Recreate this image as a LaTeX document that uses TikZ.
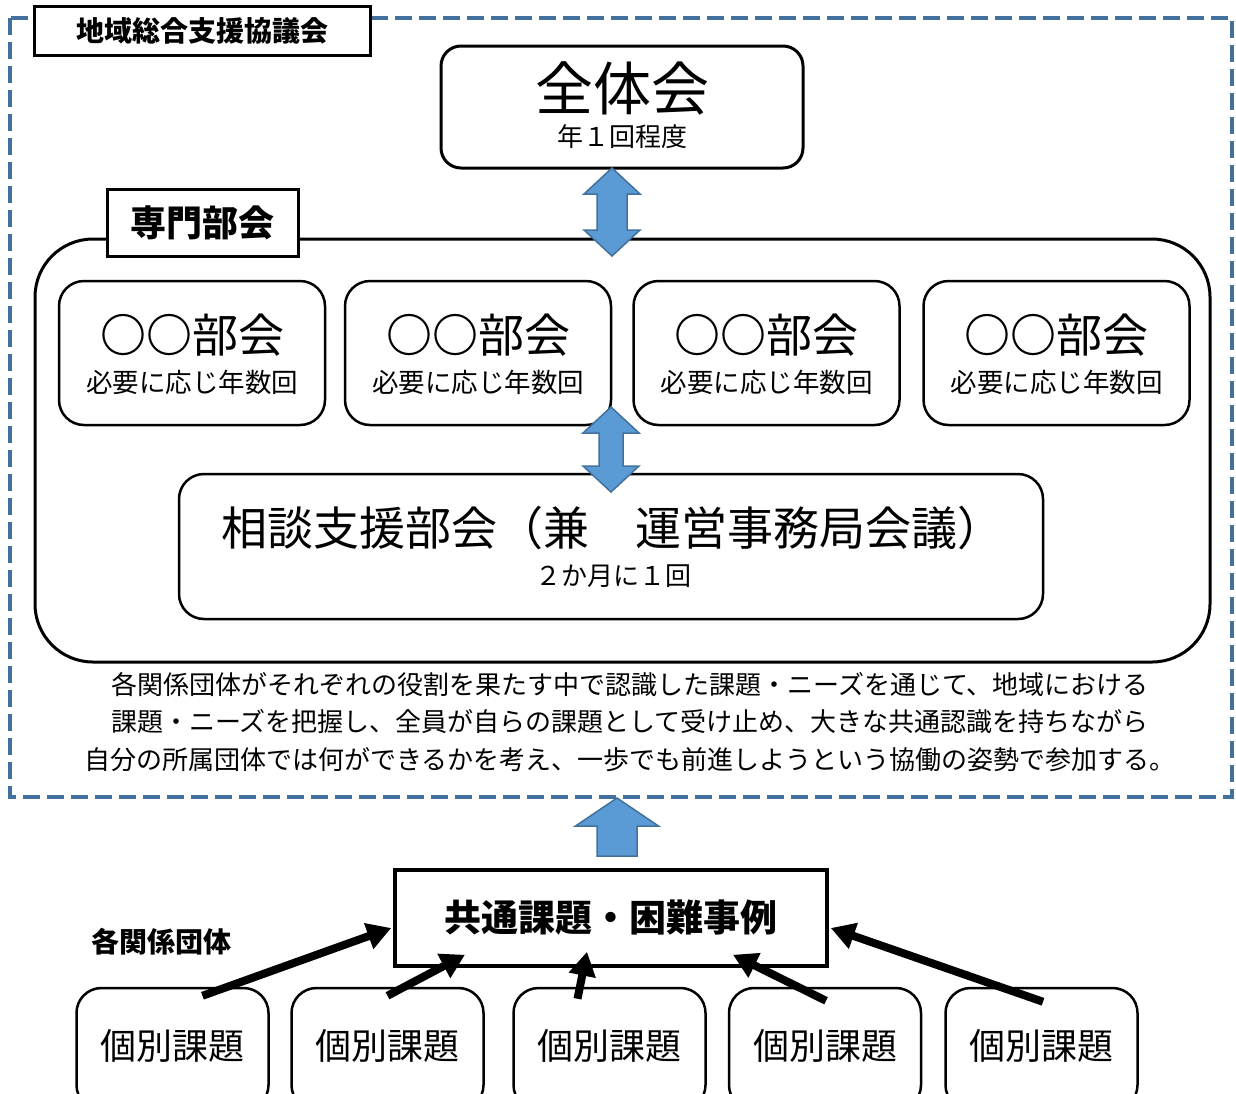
\documentclass[tikz,border=0pt]{standalone}
\usepackage{fontspec}
\setmainfont{Noto Sans CJK JP}
\usetikzlibrary{calc,arrows.meta}
\definecolor{arrowblue}{RGB}{91,155,213}
\definecolor{frameblue}{RGB}{65,113,156}
\newcommand{\fsz}[1]{\fontsize{#1}{#1}\selectfont}
% block double arrow between two tips
\newcommand{\dblarrow}[4]{%
  \draw [blockarrow] (#1) -- ($(#1)+(28,#4)$) -- ($(#1)+(#3,#4)$) -- ($(#2)+(#3,-#4)$)
    -- ($(#2)+(28,-#4)$) -- (#2) -- ($(#2)+(-28,-#4)$) -- ($(#2)+(-#3,-#4)$)
    -- ($(#1)+(-#3,#4)$) -- ($(#1)+(-28,#4)$) -- cycle;}
\tikzset{
  dashframe/.style={draw=frameblue, line width=4pt, dash pattern=on 17pt off 7pt},
  titlebox/.style={draw, line width=3pt, fill=white, inner sep=0pt, font=\bfseries\fsz{28}},
  roundbox/.style={draw, line width=2.5pt, rounded corners=25pt, fill=white, inner sep=0pt},
  sharpbox/.style={draw, line width=3.5pt, fill=white, inner sep=0pt},
  blockarrow/.style={fill=arrowblue, draw=frameblue, line width=1.5pt, line join=miter},
  pusharrow/.style={-{Triangle[length=24pt,width=26pt]}, line width=8pt},
  plain/.style={inner sep=0pt}
}
\begin{document}
\begin{tikzpicture}[x=1pt,y=-1pt]
\clip (0,0) rectangle (1236,1093);
\fill [white] (0,0) rectangle (1236,1093);

% outer frame
\draw [dashframe] (10,18) rectangle (1232,797);
\node (kyogikai) [titlebox, minimum width=336pt, minimum height=49pt] at (202,30.5) {地域総合支援協議会};

% plenary
\node (zentai) [roundbox, rounded corners=20pt, line width=3pt, minimum width=362pt, minimum height=122pt] at (622,107) {};
\node (zentaiT) [plain, font=\fsz{58}] at (622,88) {全体会};
\node (zentaiS) [plain, font=\fsz{26}] at (622,137) {年１回程度};

% specialist group
\node (senmon) [draw, line width=3pt, rounded corners=58pt, minimum width=1175pt, minimum height=423pt, inner sep=0pt] at (622.5,450.5) {};
\node (senmonL) [titlebox, font=\bfseries\fsz{36}, minimum width=191pt, minimum height=67pt] at (202.5,222.5) {専門部会};

\foreach \n/\x in {1/192,2/478,3/766.5,4/1056.5} {
  \node (b\n) [roundbox, minimum width=266pt, minimum height=144pt] at (\x,353) {};
  \node (b\n T) [plain, font=\fsz{46}] at (\x,335) {{\bfseries ○○}部会};
  \node (b\n S) [plain, font=\fsz{26.5}] at (\x,382) {必要に応じ年数回};
}

\node (soudan) [roundbox, minimum width=864pt, minimum height=145pt] at (611,546.5) {};
\node (soudanT) [plain, font=\fsz{46}] at (612,528) {相談支援部会（兼　運営事務局会議）};
\node (soudanS) [plain, font=\fsz{26}] at (613,576) {２か月に１回};

\coordinate (a1top) at (612,168);
\coordinate (a1bot) at (612,256);
\dblarrow{a1top}{a1bot}{15}{26}
\coordinate (a2top) at (611,407);
\coordinate (a2bot) at (611,492);
\dblarrow{a2top}{a2bot}{12}{26}

\node (policy) [plain, align=center, font=\fontsize{26}{37.5}\selectfont] at (630,722)
  {各関係団体がそれぞれの役割を果たす中で認識した課題・ニーズを通じて、地域における\\
   課題・ニーズを把握し、全員が自らの課題として受け止め、大きな共通認識を持ちながら\\
   自分の所属団体では何ができるかを考え、一歩でも前進しようという協働の姿勢で参加する。};

% up arrow
\coordinate (uptip) at (617,798);
\draw [blockarrow] (uptip) -- ($(uptip)+(41.5,28)$) -- ($(uptip)+(20,28)$) -- ($(uptip)+(20,58)$)
  -- ($(uptip)+(-20,58)$) -- ($(uptip)+(-20,28)$) -- ($(uptip)+(-41.5,28)$) -- cycle;

% common issues
\node (kyotsu) [sharpbox, minimum width=432pt, minimum height=96pt, font=\bfseries\fsz{37}] at (611,918) {共通課題・困難事例};
\node (dantai) [plain, font=\bfseries\fsz{28}] at (161,942) {各関係団体};

\foreach \n/\x in {1/172.5,2/387.5,3/609.5,4/825,5/1041.5} {
  \node (k\n) [roundbox, minimum width=192pt, minimum height=122pt] at (\x,1049) {};
  \node (k\n T) [plain, font=\fsz{36}] at (\x,1046) {個別課題};
}

\draw [pusharrow] ($(k1.north)+(30,9)$) -- ($(kyotsu.west)+(-2,10)$);
\draw [pusharrow] ($(k2.north)+(0,9)$) -- ($(kyotsu.south)+(-146,-13)$);
\draw [pusharrow] ($(k3.north)+(-32,12)$) -- ($(kyotsu.south)+(-24,-16)$);
\draw [pusharrow] ($(k4.north)+(1,14)$) -- ($(kyotsu.south)+(122,-13)$);
\draw [pusharrow] ($(k5.north)+(1.5,15)$) -- ($(kyotsu.east)+(2,10)$);
\end{tikzpicture}
\end{document}
